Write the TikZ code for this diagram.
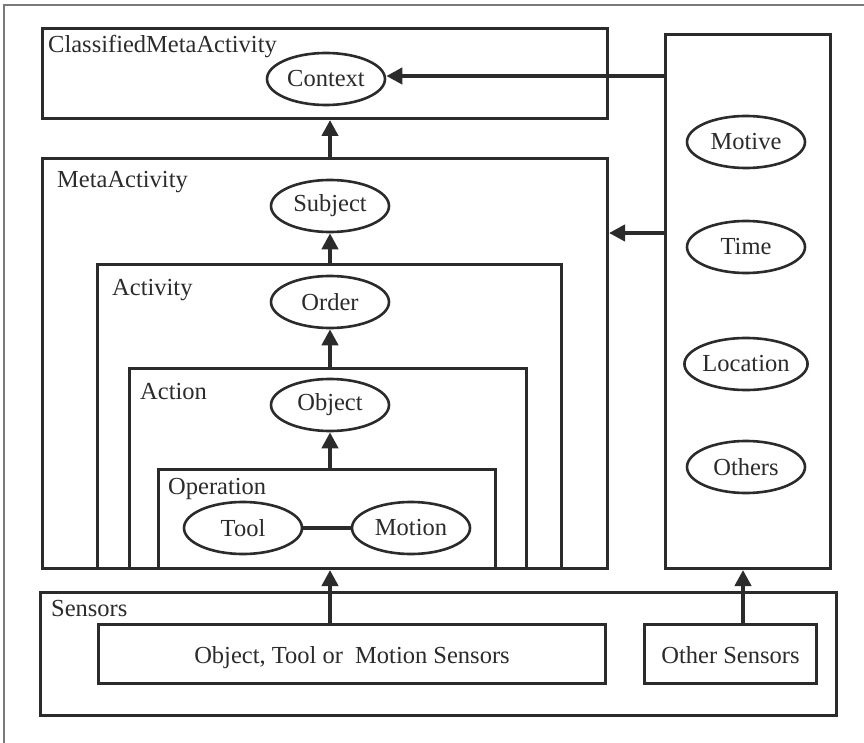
\documentclass[tikz,border=0pt]{standalone}
\usepackage{fontspec}
\setmainfont{Liberation Serif}
\usetikzlibrary{shapes.geometric,arrows.meta}
\definecolor{ink}{HTML}{2B2B2B}
\definecolor{frame}{HTML}{7A7A7A}
\tikzset{
  layer/.style={draw=ink,line width=3pt,anchor=north west,inner sep=0pt},
  oval/.style={ellipse,draw=ink,line width=2.6pt,minimum width=118pt,minimum height=52pt,inner sep=0pt,text=ink},
  link/.style={draw=ink,line width=4.5pt,-{Triangle[length=16pt,width=16pt]}},
  tie/.style={draw=ink,line width=4.5pt},
  caption/.style={anchor=base west,text=ink,inner sep=0pt},
  sensorbox/.style={draw=ink,line width=3pt,inner sep=0pt,text=ink,text depth=2pt}
}
\begin{document}
\begin{tikzpicture}[x=1pt,y=-1pt,font=\fontsize{24.5}{28}\selectfont]
\useasboundingbox (0,0) rectangle (864,743);
\fill[white] (0,0) rectangle (864,743);
% page frame
\draw[frame,line width=2pt] (4,743) -- (4,5) -- (864,5);

% nested layers
\node[layer,minimum width=565pt,minimum height=90pt] (cma) at (41,27) {};
\node[layer,minimum width=565pt,minimum height=410pt] (meta) at (41,157) {};
\node[layer,minimum width=464pt,minimum height=304pt] (act) at (96,263) {};
\node[layer,minimum width=397pt,minimum height=200pt] (actn) at (128,367) {};
\node[layer,minimum width=337pt,minimum height=99pt] (oper) at (157,468) {};
\node[layer,minimum width=165pt,minimum height=534pt] (fac) at (664,33) {};
\node[layer,minimum width=796pt,minimum height=123pt] (sens) at (39,591) {};

% layer captions
\node[caption] (lcma) at (48,53) {ClassifiedMetaActivity};
\node[caption] (lmeta) at (57,188) {MetaActivity};
\node[caption] (lact) at (112,295) {Activity};
\node[caption] (lactn) at (140,399) {Action};
\node[caption] (loper) at (168,494) {Operation};
\node[caption] (lsens) at (51,616) {Sensors};

% concepts
\node[oval] (ctx) at (326,79) {Context};
\node[oval] (subj) at (330,206) {Subject};
\node[oval] (ord) at (330,302) {Order};
\node[oval] (obj) at (330,405) {Object};
\node[oval] (tool) at (243,528) {Tool};
\node[oval] (mot) at (411,528) {Motion};
\node[oval] (motive) at (746,142) {Motive};
\node[oval] (time) at (746,247) {Time};
\node[oval] (loc) at (746,364) {Location};
\node[oval] (oth) at (746,467) {Others};

% sensor sources
\node[sensorbox,anchor=north west,minimum width=507pt,minimum height=59pt] (objs) at (97,623) {\raisebox{-4pt}{Object, Tool or\ \ Motion Sensors}};
\node[sensorbox,anchor=north west,minimum width=172pt,minimum height=59pt] (oths) at (643,623) {\raisebox{-4pt}{Other Sensors}};

% connectors
\coordinate (fc) at (664,76);
\coordinate (fm) at (664,233);
\coordinate (os) at (743,623);
\draw[link] (fc) -- (fc -| ctx.east);
\draw[link] (fm) -- (fm -| meta.east);
\draw[link] (meta.north -| subj) -- (cma.south -| subj);
\draw[link] (act.north -| subj) -- (subj.south);
\draw[link] (actn.north -| ord) -- (ord.south);
\draw[link] (oper.north -| obj) -- (obj.south);
\draw[tie] (tool.east) -- (mot.west);
\draw[link] (objs.north -| subj) -- (meta.south -| subj);
\draw[link] (os) -- (os |- fac.south);
\end{tikzpicture}
\end{document}
